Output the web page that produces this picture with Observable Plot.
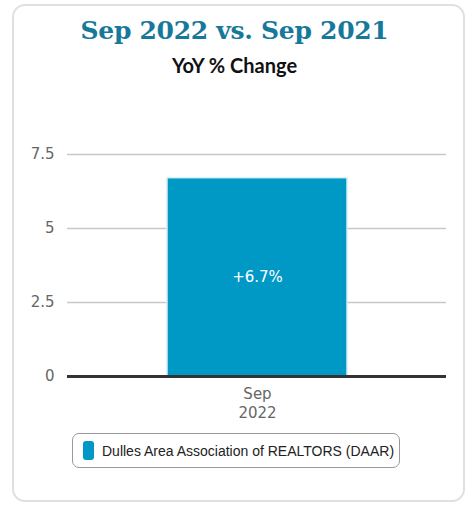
<!DOCTYPE html>
<html><head><meta charset="utf-8">
<script src="https://cdn.jsdelivr.net/npm/d3@7"></script>
<script src="https://cdn.jsdelivr.net/npm/@observablehq/plot@0.6"></script>
<style>
body{margin:0;width:469px;height:506px;background:#fff;position:relative;overflow:hidden;font-family:"DejaVu Sans",sans-serif}
#card{position:absolute;left:12px;top:4px;width:449px;height:494px;border:2px solid #e0e0e0;border-radius:13px}
#title{position:absolute;left:0;width:469px;top:16px;text-align:center;font-family:"DejaVu Serif",serif;font-weight:bold;font-size:25px;color:#17799a;letter-spacing:-0.3px}
#sub{position:absolute;left:0;width:469px;top:53px;text-align:center;font-family:"Lato","Noto Sans",sans-serif;font-weight:bold;font-size:20px;color:#111}
#chart{position:absolute;left:0;top:130px}
#legend{position:absolute;left:72px;top:433px;width:328px;height:35px;border:1.5px solid #999;border-radius:7px;box-sizing:border-box;font-family:"Liberation Sans",Arial,sans-serif;font-size:14px;color:#222;display:flex;align-items:center;background:#fff}
#legend .sw{width:11px;height:19px;background:#0099c6;border-radius:3px;margin-left:10px;margin-right:8px}
</style></head>
<body>
<div id="card"></div>
<div id="title">Sep 2022 vs. Sep 2021</div>
<div id="sub">YoY % Change</div>
<div id="chart"></div>
<div id="legend"><div class="sw"></div><span id="legtext"></span></div>
<script>
const categories = ["Sep 2022"];
const values = [6.7];
const labels = ["+6.7%"];
const seriesName = "Dulles Area Association of REALTORS (DAAR)";
const yTicks = [0, 2.5, 5, 7.5];

const data = categories.map((c, i) => ({cat: c, value: values[i], label: labels[i]}));
document.getElementById("legtext").textContent = seriesName;

const chart = Plot.plot({
  width: 469,
  height: 300,
  marginTop: 24,
  marginBottom: 54,
  marginLeft: 67,
  marginRight: 23,
  style: {fontFamily: "DejaVu Sans, sans-serif", fontSize: "15px", background: "transparent"},
  x: {domain: categories, padding: 0.356, label: null},
  y: {domain: [0, 7.5], label: null},
  marks: [
    Plot.gridY(yTicks, {stroke: "#c8c8c8", strokeOpacity: 1, strokeWidth: 1.5}),
    Plot.axisY(yTicks, {tickSize: 0, tickPadding: 13, fill: "#666", fontSize: 15, label: null, tickFormat: d => String(d)}),
    Plot.axisX({tickSize: 0, tickPadding: 9, fill: "#666", fontSize: 15, lineHeight: 1.25, label: null, tickFormat: d => d.replace(" ", "\n")}),
    Plot.barY(data, {x: "cat", y: "value", fill: "#0099c6", stroke: "#d6eef6", strokeWidth: 1.5}),
    Plot.ruleY([0], {stroke: "#333", strokeWidth: 3}),
    Plot.text(data, {x: "cat", y: d => d.value / 2, text: "label", fill: "#fff", fontSize: 15})
  ]
});
document.getElementById("chart").appendChild(chart);
</script>
</body></html>
